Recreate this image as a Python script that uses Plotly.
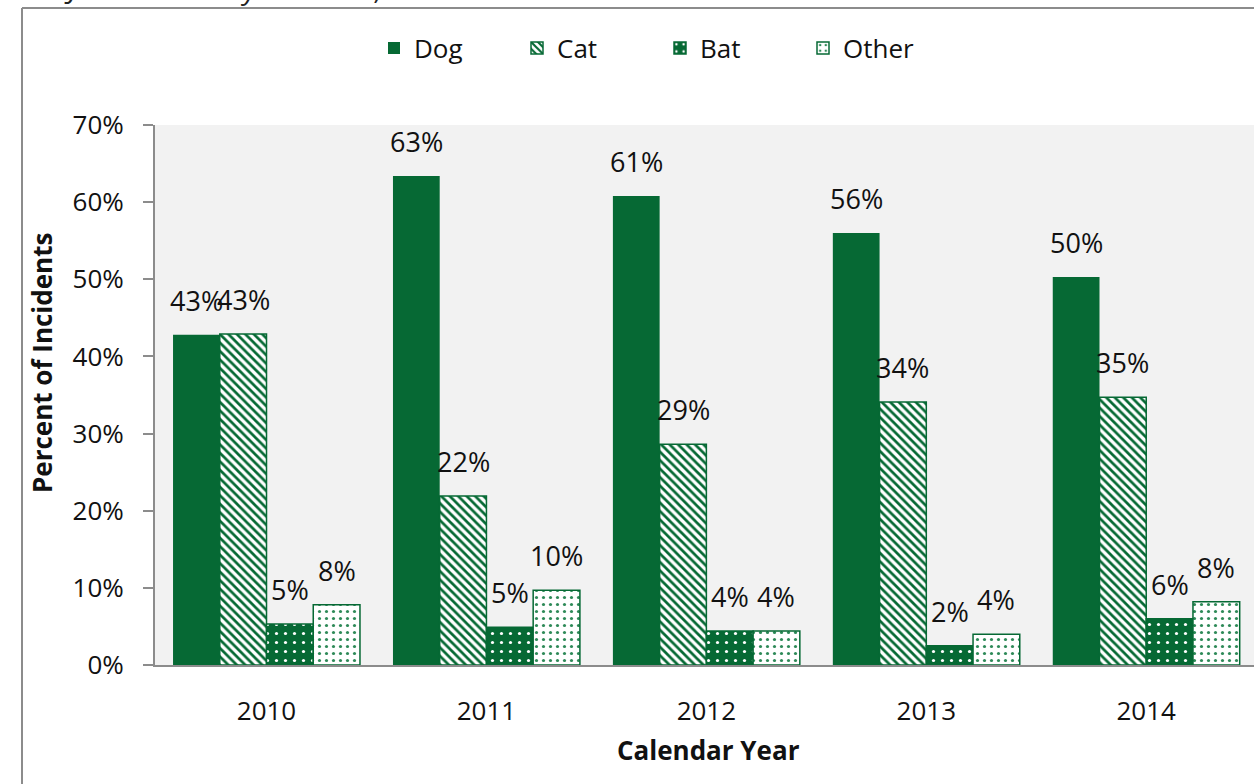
import plotly.graph_objects as go

# Share of incidents by animal type, per calendar year (percent)
years = ["2010", "2011", "2012", "2013", "2014"]
dog = [42.8, 63.4, 60.8, 56.0, 50.3]
cat = [42.9, 21.9, 28.6, 34.1, 34.7]
bat = [5.3, 4.9, 4.4, 2.5, 6.0]
other = [7.8, 9.7, 4.4, 4.0, 8.2]

series_names = ["Dog", "Cat", "Bat", "Other"]
series_values = [dog, cat, bat, other]

GREEN = "#066934"
FONT = "Open Sans"
TXT = "#111111"

W, H = 1254, 784
ML, MR, MT, MB = 155, 0, 125, 119
PW = W - ML - MR
PH = H - MT - MB

x_idx = list(range(len(years)))
bargap = 0.15
n_series = len(series_names)
bar_w = (1 - bargap) / n_series

styles = {
    "Dog": dict(color=GREEN, line=dict(color=GREEN, width=0)),
    "Cat": dict(color="white", line=dict(color=GREEN, width=1.5),
                pattern=dict(shape="\\", fgcolor=GREEN, bgcolor="white",
                             size=6, solidity=0.45, fillmode="replace")),
    "Bat": dict(color=GREEN, line=dict(color=GREEN, width=1.5),
                pattern=dict(shape=".", fgcolor="white", bgcolor=GREEN,
                             size=9, solidity=0.1, fillmode="replace")),
    "Other": dict(color="white", line=dict(color=GREEN, width=1.5),
                  pattern=dict(shape=".", fgcolor="#2e8a58", bgcolor="white",
                               size=7, solidity=0.16, fillmode="replace")),
}

fig = go.Figure()
annotations = []
for i, (name, vals) in enumerate(zip(series_names, series_values)):
    fig.add_trace(go.Bar(
        x=x_idx, y=vals, name=name, marker=styles[name],
        hoverinfo="skip",
    ))
    offset = -(1 - bargap) / 2 + bar_w * (i + 0.5)
    for xi, v in zip(x_idx, vals):
        annotations.append(dict(
            x=xi + offset, y=v, xref="x", yref="y",
            text=f"{round(v):.0f}%", showarrow=False,
            yanchor="bottom", yshift=14,
            font=dict(family=FONT, size=27, color=TXT),
        ))


def px_x(p):
    return (p - ML) / PW


def px_y(p):
    return (H - MB - p) / PH


# Title line, mostly above the visible page
annotations.append(dict(
    x=px_x(62), y=px_y(9), xref="paper", yref="paper",
    xanchor="left", yanchor="bottom", showarrow=False,
    text="<i>Jackson County residents, 2010-2014</i>",
    font=dict(family=FONT, size=28, color="#222222"),
))

# Axis titles
annotations.append(dict(
    x=px_x(42), y=px_y(363), xref="paper", yref="paper",
    xanchor="center", yanchor="middle", showarrow=False, textangle=-90,
    text="<b>Percent of Incidents</b>",
    font=dict(family=FONT, size=26, color=TXT),
))
annotations.append(dict(
    x=px_x(708), y=px_y(750), xref="paper", yref="paper",
    xanchor="center", yanchor="middle", showarrow=False,
    text="<b>Calendar Year</b>",
    font=dict(family=FONT, size=26, color=TXT),
))

fig.update_layout(
    width=W, height=H,
    margin=dict(l=ML, r=MR, t=MT, b=MB, pad=0),
    paper_bgcolor="white",
    plot_bgcolor="#f2f2f2",
    barmode="group",
    bargap=bargap,
    bargroupgap=0,
    font=dict(family=FONT, size=26, color=TXT),
    showlegend=True,
    legend=dict(
        orientation="h", x=px_x(374), y=px_y(48), xanchor="left", yanchor="middle",
        font=dict(family=FONT, size=26, color=TXT),
        entrywidth=98, entrywidthmode="pixels",
        itemwidth=30, bgcolor="rgba(0,0,0,0)",
    ),
    annotations=annotations,
    shapes=[
        dict(type="line", xref="paper", yref="paper",
             x0=px_x(22), x1=px_x(1260), y0=px_y(8), y1=px_y(8),
             line=dict(color="#8c8c8c", width=2)),
        dict(type="line", xref="paper", yref="paper",
             x0=px_x(22), x1=px_x(22), y0=px_y(8), y1=px_y(790),
             line=dict(color="#8c8c8c", width=2)),
    ],
)

fig.update_xaxes(
    range=[-0.507, 4.49],
    tickvals=x_idx, ticktext=years,
    showgrid=False, zeroline=False,
    showline=True, linecolor="#8c8c8c", linewidth=2,
    ticks="", ticklabelstandoff=22,
    tickfont=dict(family=FONT, size=26, color=TXT),
)

fig.update_yaxes(
    range=[0, 70], dtick=10, ticksuffix="%",
    showgrid=False, zeroline=False,
    showline=True, linecolor="#8c8c8c", linewidth=2,
    ticks="outside", ticklen=10, tickcolor="#8c8c8c", tickwidth=2,
    ticklabelstandoff=14,
    tickfont=dict(family=FONT, size=26, color=TXT),
)

fig.write_html("out.html")
